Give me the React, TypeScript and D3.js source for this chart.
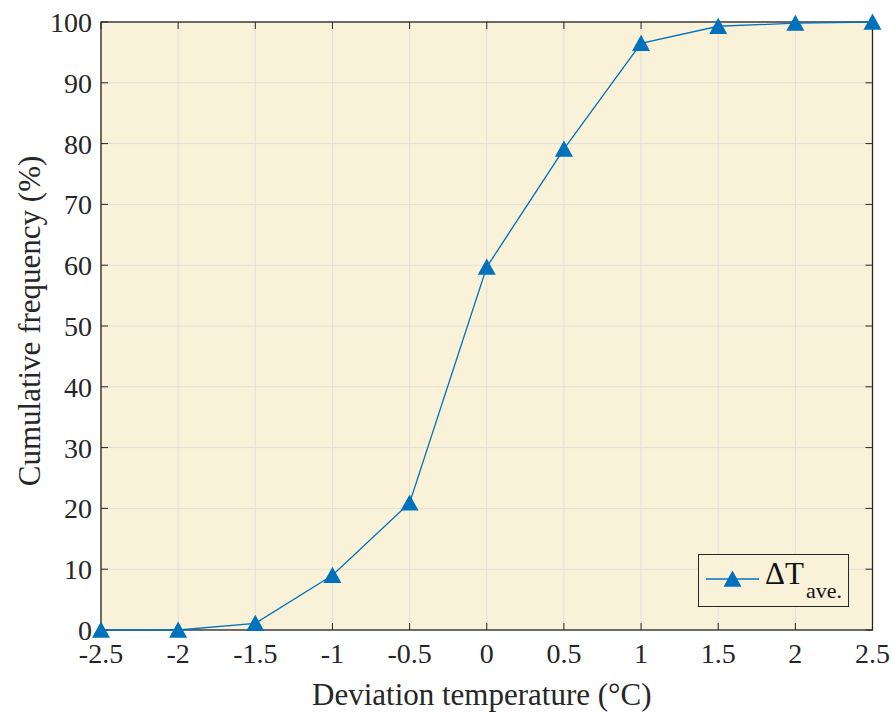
import React from "react";
import * as d3 from "d3";

const xValues = [-2.5, -2, -1.5, -1, -0.5, 0, 0.5, 1, 1.5, 2, 2.5];
const cumFreq = [0, 0, 1.1, 9.0, 20.9, 59.7, 79.1, 96.5, 99.3, 99.8, 100];
const xTicks = [-2.5, -2, -1.5, -1, -0.5, 0, 0.5, 1, 1.5, 2, 2.5];
const yTicks = [0, 10, 20, 30, 40, 50, 60, 70, 80, 90, 100];

const W = 893, H = 713;
const L = 101, R = 872.5, T = 22, B = 630;
const FONT = "Liberation Serif, Times New Roman, DejaVu Serif, serif";
const BLUE = "#0072BD";
const ts = { fontFamily: FONT };

export default function App() {
  const x = d3.scaleLinear().domain([-2.5, 2.5]).range([L, R]);
  const y = d3.scaleLinear().domain([0, 100]).range([B, T]);
  const line = d3.line<number>().x((_, i) => x(xValues[i])).y((d) => y(d));
  const tri = (cx: number, cy: number) => {
    const w = 9, h = 8.5;
    return `M${cx},${cy - h} L${cx + w},${cy + h * 0.9} L${cx - w},${cy + h * 0.9} Z`;
  };
  return (
    <svg width={W} height={H} style={{ position: "absolute", left: 0, top: 0 }}>
      <rect x={L} y={T} width={R - L} height={B - T} fill="#FAF2D8" />
      {xTicks.map((t) => (
        <line key={"gx" + t} x1={x(t)} x2={x(t)} y1={T} y2={B} stroke="#E1DFD8" strokeWidth={1} />
      ))}
      {yTicks.map((t) => (
        <line key={"gy" + t} x1={L} x2={R} y1={y(t)} y2={y(t)} stroke="#E1DFD8" strokeWidth={1} />
      ))}
      {xTicks.map((t) => (
        <g key={"tx" + t}>
          <line x1={x(t)} x2={x(t)} y1={B} y2={B - 7} stroke="#262626" strokeWidth={1} />
          <line x1={x(t)} x2={x(t)} y1={T} y2={T + 7} stroke="#262626" strokeWidth={1} />
          <text x={x(t)} y={663} textAnchor="middle" fontSize={28} fill="#262626" style={ts}>{t}</text>
        </g>
      ))}
      {yTicks.map((t) => (
        <g key={"ty" + t}>
          <line x1={L} x2={L + 7} y1={y(t)} y2={y(t)} stroke="#262626" strokeWidth={1} />
          <line x1={R} x2={R - 7} y1={y(t)} y2={y(t)} stroke="#262626" strokeWidth={1} />
          <text x={92} y={y(t) + 10} textAnchor="end" fontSize={28} fill="#262626" style={ts}>{t}</text>
        </g>
      ))}
      <rect x={L} y={T} width={R - L} height={B - T} fill="none" stroke="#262626" strokeWidth={1.3} />
      <path d={line(cumFreq) || ""} fill="none" stroke={BLUE} strokeWidth={1.3} />
      {cumFreq.map((v, i) => (
        <path key={"m" + i} d={tri(x(xValues[i]), y(v))} fill={BLUE} />
      ))}
      <rect x={698.5} y={554.5} width={150} height={52} fill="#FAF2D8" stroke="#262626" strokeWidth={1} />
      <line x1={706} x2={759} y1={579} y2={579} stroke={BLUE} strokeWidth={1.3} />
      <path d={tri(732.5, 579)} fill={BLUE} />
      <text x={765} y={584} fontSize={31} fill="#111" style={ts}>ΔT</text>
      <text x={806} y={598} fontSize={22} fill="#111" style={ts}>ave.</text>
      <text x={(L + R) / 2 - 5} y={705} textAnchor="middle" fontSize={31} fill="#262626" style={ts}>Deviation temperature (°C)</text>
      <text transform={`translate(40,321) rotate(-90)`} textAnchor="middle" fontSize={31} fill="#262626" style={ts}>Cumulative frequency (%)</text>
    </svg>
  );
}
